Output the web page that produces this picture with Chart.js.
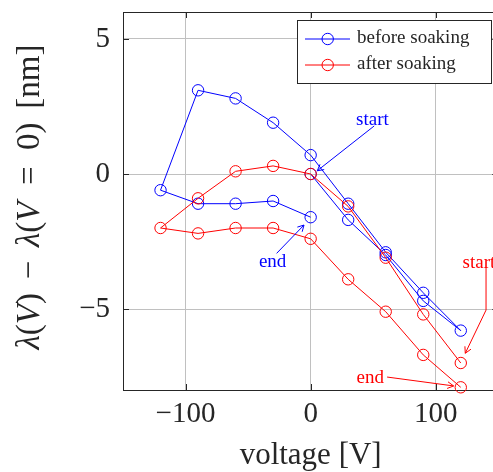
<!DOCTYPE html>
<html>
<head>
<meta charset="utf-8">
<script src="https://cdn.jsdelivr.net/npm/chart.js@4.4.0/dist/chart.umd.min.js"></script>
<style>
html, body { margin: 0; padding: 0; overflow: hidden; background: #fff; }
canvas { display: block; }
</style>
</head>
<body>
<canvas id="mycanvas" width="505" height="472"></canvas>
<script>
// shift of the wavelength, in sweep order
var voltBefore  = [0, 30, 60, 90, 120, 90, 60, 30, 0, -30, -60, -90, -120, -90, -60, -30, 0];
var shiftBefore = [0, -1.7, -3.0, -4.7, -5.8, -4.4, -2.9, -1.1, 0.7, 1.9, 2.8, 3.1, -0.6, -1.1, -1.1, -1.0, -1.6];
var voltAfter   = [120, 90, 60, 30, 0, -30, -60, -90, -120, -90, -60, -30, 0, 30, 60, 90, 120];
var shiftAfter  = [-7.0, -5.2, -3.1, -1.2, 0, 0.3, 0.1, -0.9, -2.0, -2.2, -2.0, -2.0, -2.4, -3.9, -5.1, -6.7, -7.9];
var seriesNames = ['before soaking', 'after soaking'];
var xTicks = [-100, 0, 100];
var yTicks = [-5, 0, 5];

var BLUE = '#0000ff', RED = '#ff0000';
var INK = '#262626';
var SERIF = '"Liberation Serif", serif';

// labels with arrows, in data units
var notes = [
	{ text: 'start', color: BLUE, at: [49.4, 2.0], path: [[50.8, 1.78], [5.3, 0.12]] },
	{ text: 'end', color: BLUE, at: [-30.4, -3.25], path: [[-27.2, -2.94], [-5.3, -1.89]] },
	{ text: 'start', color: RED, at: [134.5, -3.3], path: [[140.2, -3.48], [140.2, -5.04], [123.6, -6.64]] },
	{ text: 'end', color: RED, at: [47.6, -7.55], path: [[61.1, -7.52], [114.3, -7.85]] }
];

function toPoints(xs, ys) {
	var out = [];
	for (var i = 0; i < xs.length; i++) out.push({ x: xs[i], y: ys[i] });
	return out;
}

function arrowHead(ctx, x0, y0, x1, y1) {
	var ang = Math.atan2(y1 - y0, x1 - x0);
	var len = 7, spread = 0.5;
	ctx.beginPath();
	ctx.moveTo(x1 - len * Math.cos(ang - spread), y1 - len * Math.sin(ang - spread));
	ctx.lineTo(x1, y1);
	ctx.lineTo(x1 - len * Math.cos(ang + spread), y1 - len * Math.sin(ang + spread));
	ctx.stroke();
}

var extras = {
	id: 'extras',
	afterDraw: function(chart) {
		var ctx = chart.ctx, a = chart.chartArea;
		var sx = chart.scales.x, sy = chart.scales.y;
		ctx.save();

		// frame top/right and inner tick marks
		ctx.strokeStyle = INK;
		ctx.lineWidth = 1;
		ctx.beginPath();
		ctx.moveTo(a.left, a.top + 0.5); ctx.lineTo(a.right, a.top + 0.5);
		ctx.moveTo(a.right - 0.5, a.top); ctx.lineTo(a.right - 0.5, a.bottom);
		xTicks.forEach(function(v) {
			var px = Math.round(sx.getPixelForValue(v)) + 0.5;
			ctx.moveTo(px, a.bottom); ctx.lineTo(px, a.bottom - 6);
			ctx.moveTo(px, a.top); ctx.lineTo(px, a.top + 6);
		});
		yTicks.forEach(function(v) {
			var py = Math.round(sy.getPixelForValue(v)) + 0.5;
			ctx.moveTo(a.left, py); ctx.lineTo(a.left + 6, py);
			ctx.moveTo(a.right, py); ctx.lineTo(a.right - 6, py);
		});
		ctx.stroke();

		// annotations
		ctx.font = '19px ' + SERIF;
		ctx.textAlign = 'center';
		ctx.textBaseline = 'middle';
		notes.forEach(function(n) {
			ctx.fillStyle = n.color;
			ctx.strokeStyle = n.color;
			ctx.fillText(n.text, sx.getPixelForValue(n.at[0]), sy.getPixelForValue(n.at[1]));
			var pts = n.path.map(function(p) { return [sx.getPixelForValue(p[0]), sy.getPixelForValue(p[1])]; });
			ctx.beginPath();
			ctx.moveTo(pts[0][0], pts[0][1]);
			for (var i = 1; i < pts.length; i++) ctx.lineTo(pts[i][0], pts[i][1]);
			ctx.stroke();
			var k = pts.length - 1;
			arrowHead(ctx, pts[k - 1][0], pts[k - 1][1], pts[k][0], pts[k][1]);
		});

		// legend box
		var bx = 297.5, by = 20.5, bw = 194, bh = 63;
		ctx.fillStyle = '#fff';
		ctx.fillRect(bx, by, bw, bh);
		ctx.strokeStyle = INK;
		ctx.strokeRect(bx, by, bw, bh);
		ctx.font = '19px ' + SERIF;
		ctx.textAlign = 'left';
		ctx.textBaseline = 'alphabetic';
		[BLUE, RED].forEach(function(c, i) {
			var cy = 39 + i * 26;
			ctx.strokeStyle = c;
			ctx.beginPath();
			ctx.moveTo(305, cy); ctx.lineTo(350, cy);
			ctx.stroke();
			ctx.beginPath();
			ctx.arc(327.7, cy, 5.7, 0, Math.PI * 2);
			ctx.stroke();
			ctx.fillStyle = INK;
			ctx.fillText(seriesNames[i], 357, cy + 4);
		});

		// axis titles
		ctx.fillStyle = INK;
		ctx.font = '31px ' + SERIF;
		ctx.textAlign = 'center';
		ctx.textBaseline = 'middle';
		ctx.fillText('voltage [V]', sx.getPixelForValue(0), 456);

		var up = '33px ' + SERIF, it = 'italic 33px ' + SERIF;
		var parts = [
			['λ', it, 0], ['(', up, 0], ['V', it, 0], [')', up, 0],
			['−', up, 1], ['λ', it, 1], ['(', up, 0], ['V', it, 0],
			['=', up, 2], ['0', up, 2], [')', up, 0], ['[nm]', up, 3]
		];
		var gapW = [0, 1, 1.2, 1];
		var total = 0, gaps = 0;
		parts.forEach(function(p) {
			ctx.font = p[1];
			p.push(ctx.measureText(p[0]).width);
			total += p[3];
			gaps += gapW[p[2]];
		});
		var unit = (305 - total) / gaps;
		ctx.save();
		ctx.translate(30, 197);
		ctx.rotate(-Math.PI / 2);
		ctx.textAlign = 'left';
		var cx = -152.5;
		parts.forEach(function(p) {
			cx += gapW[p[2]] * unit;
			ctx.font = p[1];
			ctx.fillText(p[0], cx, 0);
			cx += p[3];
		});
		ctx.restore();

		ctx.restore();
	}
};

var ctx = document.getElementById('mycanvas');

var chart = new Chart(ctx, {
	type: 'scatter',
	data: {
		datasets: [
			{
				label: seriesNames[1],
				data: toPoints(voltAfter, shiftAfter),
				showLine: true,
				borderColor: RED,
				borderWidth: 1,
				backgroundColor: 'rgba(0,0,0,0)',
				pointRadius: 5.7,
				pointBorderWidth: 1,
				pointBorderColor: RED,
				pointBackgroundColor: 'rgba(0,0,0,0)',
				tension: 0
			},
			{
				label: seriesNames[0],
				data: toPoints(voltBefore, shiftBefore),
				showLine: true,
				borderColor: BLUE,
				borderWidth: 1,
				backgroundColor: 'rgba(0,0,0,0)',
				pointRadius: 5.7,
				pointBorderWidth: 1,
				pointBorderColor: BLUE,
				pointBackgroundColor: 'rgba(0,0,0,0)',
				tension: 0
			}
		]
	},
	options: {
		responsive: false,
		animation: false,
		devicePixelRatio: 1,
		clip: false,
		layout: { padding: { top: 12, right: 5, left: 0, bottom: 0 } },
		plugins: {
			legend: { display: false },
			tooltip: { enabled: false }
		},
		scales: {
			x: {
				type: 'linear',
				min: -150,
				max: 150,
				afterFit: function(s) { s.height = 82; s.paddingLeft = 0; s.paddingRight = 0; },
				afterBuildTicks: function(s) { s.ticks = xTicks.map(function(v) { return { value: v }; }); },
				grid: { color: '#c0c0c0', lineWidth: 1, drawTicks: false },
				border: { display: true, color: INK, width: 1 },
				ticks: {
					padding: 7,
					color: INK,
					font: { family: SERIF, size: 29 },
					callback: function(v) { return String(v).replace('-', '\u2212'); }
				}
			},
			y: {
				type: 'linear',
				min: -8,
				max: 6,
				afterFit: function(s) { s.width = 123; s.paddingTop = 0; s.paddingBottom = 0; },
				afterBuildTicks: function(s) { s.ticks = yTicks.map(function(v) { return { value: v }; }); },
				grid: { color: '#c0c0c0', lineWidth: 1, drawTicks: false },
				border: { display: true, color: INK, width: 1 },
				ticks: {
					padding: 13,
					color: INK,
					font: { family: SERIF, size: 29 },
					callback: function(v) { return String(v).replace('-', '\u2212'); }
				}
			}
		}
	},
	plugins: [extras]
});
</script>
</body>
</html>
